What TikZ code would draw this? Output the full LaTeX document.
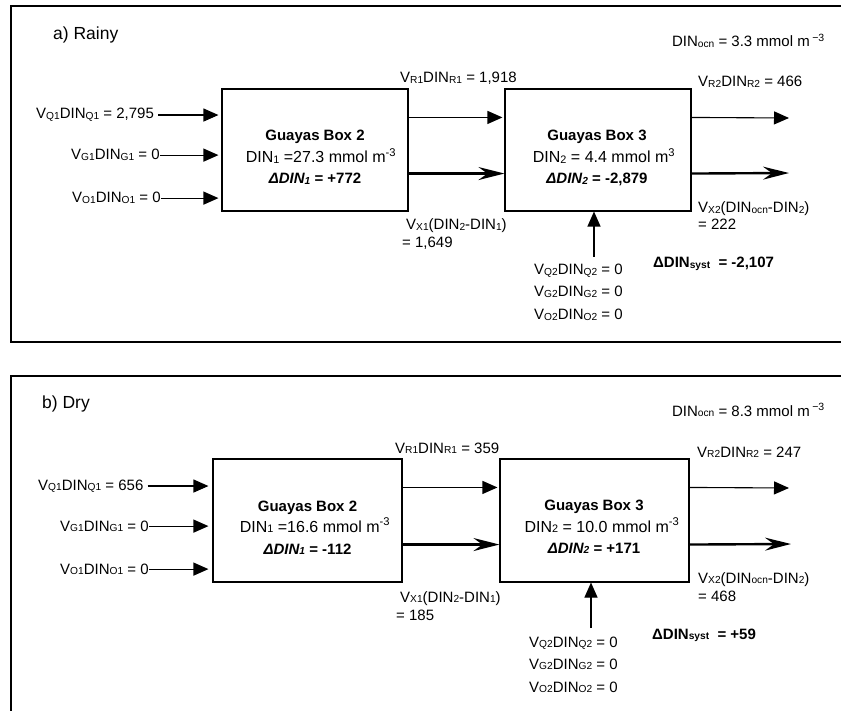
\documentclass[tikz,border=0pt]{standalone}
\usepackage{fontspec}
\setmainfont{Liberation Sans}
\usepackage{graphicx}
\usetikzlibrary{arrows.meta}
\newcommand{\lo}[1]{\raisebox{-0.6pt}{\scalebox{0.68}{#1}}}

\begin{document}
\begin{tikzpicture}[x=1pt, y=-1pt,
    every node/.style={inner sep=0pt, font=\fontsize{15}{18}\selectfont},
    frame/.style={line width=1.6pt},
    gbox/.style={draw, line width=1.1pt},
    title/.style={font=\fontsize{17.5}{20}\selectfont},
    conc/.style={font=\fontsize{16}{19}\selectfont},
    thinflow/.style={line width=1.1pt, -{Triangle[length=15pt,width=13pt]}},
    thickflow/.style={line width=2.4pt, -{Stealth[length=26pt,width=13pt,inset=9pt]}}]
    \useasboundingbox (0,0) rectangle (841,711);
    \clip (0,0) rectangle (841,711);

    % a) rainy season
    \draw[frame] (11,6) rectangle (870,342);
    \node[title, anchor=base west] (ta) at (53,40) {a) Rainy};
    \node[anchor=base east] (oa) at (825,47) {DIN\lo{ocn} = 3.3 mmol m\,\textsuperscript{−3}};
    \node[gbox, minimum width=186pt, minimum height=122pt] (ba2) at (315,150) {};
    \node[gbox, minimum width=186pt, minimum height=122pt] (ba3) at (598,150) {};
    \node[anchor=base] (na2) at (315,141) {\textbf{Guayas Box 2}};
    \node[conc, anchor=base] (ca2) at (321,163) {DIN\lo{1} =27.3 mmol m\textsuperscript{-3}};
    \node[anchor=base] (da2) at (315,184) {\textbf{\textit{ΔDIN\lo{1}} = +772}};
    \node[anchor=base] (na3) at (597,141) {\textbf{Guayas Box 3}};
    \node[conc, anchor=base] (ca3) at (604,163) {DIN\lo{2} = 4.4 mmol m\textsuperscript{3}};
    \node[anchor=base] (da3) at (597,184) {\textbf{\textit{ΔDIN\lo{2}} = -2,879}};

    \node[anchor=base west] (qa1) at (36,119) {V\lo{Q1}DIN\lo{Q1} = 2,795};
    \node[anchor=base west] (ga1) at (71,160) {V\lo{G1}DIN\lo{G1} = 0};
    \node[anchor=base west] (oa1) at (72,203) {V\lo{O1}DIN\lo{O1} = 0};
    \draw[thinflow, shorten >=3pt] ([xshift=4pt]qa1.east) -- (qa1.east -| ba2.west);
    \draw[thinflow, shorten >=3pt] (ga1.east) -- (ga1.east -| ba2.west);
    \draw[thinflow, shorten >=3pt] (oa1.east) -- (oa1.east -| ba2.west);

    \draw[thinflow, shorten >=2pt] ([yshift=-29pt]ba2.north east) -- ([yshift=-29pt]ba3.north west);
    \draw[thickflow] ([yshift=38pt]ba2.south east) -- ([yshift=38pt]ba3.south west);
    \coordinate (ra2) at (789,118);
    \coordinate (xa2) at (789,173);
    \draw[thinflow] ([yshift=-29pt]ba3.north east) -- (ra2);
    \draw[thickflow] ([yshift=38pt]ba3.south east) -- (xa2);
    \coordinate (sa) at (594,257);
    \draw[thinflow] (sa) -- (sa |- ba3.south);

    \node[anchor=base west] (ra1l) at (400,83) {V\lo{R1}DIN\lo{R1} = 1,918};
    \node[anchor=base west] (ra2l) at (698,87) {V\lo{R2}DIN\lo{R2} = 466};
    \node[anchor=base west] (xa1l) at (406,230) {V\lo{X1}(DIN\lo{2}-DIN\lo{1})};
    \node[anchor=base west] (xa1v) at (402,248) {= 1,649};
    \node[anchor=base west] (xa2l) at (698,213) {V\lo{X2}(DIN\lo{ocn}-DIN\lo{2})};
    \node[anchor=base west] (xa2v) at (698,230) {= 222};
    \node[anchor=base west] (sya) at (653,268) {\textbf{ΔDIN\lo{syst}\ \ = -2,107}};
    \node[anchor=base west] (qa2) at (534,275) {V\lo{Q2}DIN\lo{Q2} = 0};
    \node[anchor=base west] (ga2) at (534,297) {V\lo{G2}DIN\lo{G2} = 0};
    \node[anchor=base west] (oa2) at (534,320) {V\lo{O2}DIN\lo{O2} = 0};

    % b) dry season
    \draw[frame] (11,376) rectangle (870,740);
    \node[title, anchor=base west] (tb) at (42,408) {b) Dry};
    \node[anchor=base east] (ob) at (825,416) {DIN\lo{ocn} = 8.3 mmol m\,\textsuperscript{−3}};
    \node[gbox, minimum width=189pt, minimum height=123pt] (bb2) at (307.5,520.5) {};
    \node[gbox, minimum width=189pt, minimum height=123pt] (bb3) at (594.5,520.5) {};
    \node[anchor=base] (nb2) at (307.5,511) {\textbf{Guayas Box 2}};
    \node[conc, anchor=base] (cb2) at (315,532) {DIN\lo{1} =16.6 mmol m\textsuperscript{-3}};
    \node[anchor=base] (db2) at (307.5,554) {\textbf{\textit{ΔDIN\lo{1}} = -112}};
    \node[anchor=base] (nb3) at (594,510) {\textbf{Guayas Box 3}};
    \node[conc, anchor=base] (cb3) at (602,532) {DIN\lo{2} = 10.0 mmol m\textsuperscript{-3}};
    \node[anchor=base] (db3) at (594,553) {\textbf{\textit{ΔDIN\lo{2}} = +171}};

    \node[anchor=base west] (qb1) at (38,490) {V\lo{Q1}DIN\lo{Q1} = 656};
    \node[anchor=base west] (gb1) at (60,531) {V\lo{G1}DIN\lo{G1} = 0};
    \node[anchor=base west] (ob1) at (60,574) {V\lo{O1}DIN\lo{O1} = 0};
    \draw[thinflow, shorten >=4pt] ([xshift=4pt]qb1.east) -- (qb1.east -| bb2.west);
    \draw[thinflow, shorten >=4pt] (gb1.east) -- (gb1.east -| bb2.west);
    \draw[thinflow, shorten >=4pt] (ob1.east) -- (ob1.east -| bb2.west);

    \draw[thinflow, shorten >=2pt] ([yshift=-29pt]bb2.north east) -- ([yshift=-29pt]bb3.north west);
    \draw[thickflow] ([yshift=38pt]bb2.south east) -- ([yshift=38pt]bb3.south west);
    \coordinate (rb2) at (789,488);
    \coordinate (xb2) at (791,544);
    \draw[thinflow] ([yshift=-29pt]bb3.north east) -- (rb2);
    \draw[thickflow] ([yshift=38pt]bb3.south east) -- (xb2);
    \coordinate (sb) at (591,628);
    \draw[thinflow] (sb) -- (sb |- bb3.south);

    \node[anchor=base west] (rb1l) at (395,453) {V\lo{R1}DIN\lo{R1} = 359};
    \node[anchor=base west] (rb2l) at (697,457) {V\lo{R2}DIN\lo{R2} = 247};
    \node[anchor=base west] (xb1l) at (400,602) {V\lo{X1}(DIN\lo{2}-DIN\lo{1})};
    \node[anchor=base west] (xb1v) at (396,620) {= 185};
    \node[anchor=base west] (xb2l) at (698,583) {V\lo{X2}(DIN\lo{ocn}-DIN\lo{2})};
    \node[anchor=base west] (xb2v) at (698,601) {= 468};
    \node[anchor=base west] (syb) at (652,639) {\textbf{ΔDIN\lo{syst}\ \ = +59}};
    \node[anchor=base west] (qb2) at (529,647) {V\lo{Q2}DIN\lo{Q2} = 0};
    \node[anchor=base west] (gb2) at (529,669) {V\lo{G2}DIN\lo{G2} = 0};
    \node[anchor=base west] (ob2) at (529,692) {V\lo{O2}DIN\lo{O2} = 0};
\end{tikzpicture}
\end{document}
